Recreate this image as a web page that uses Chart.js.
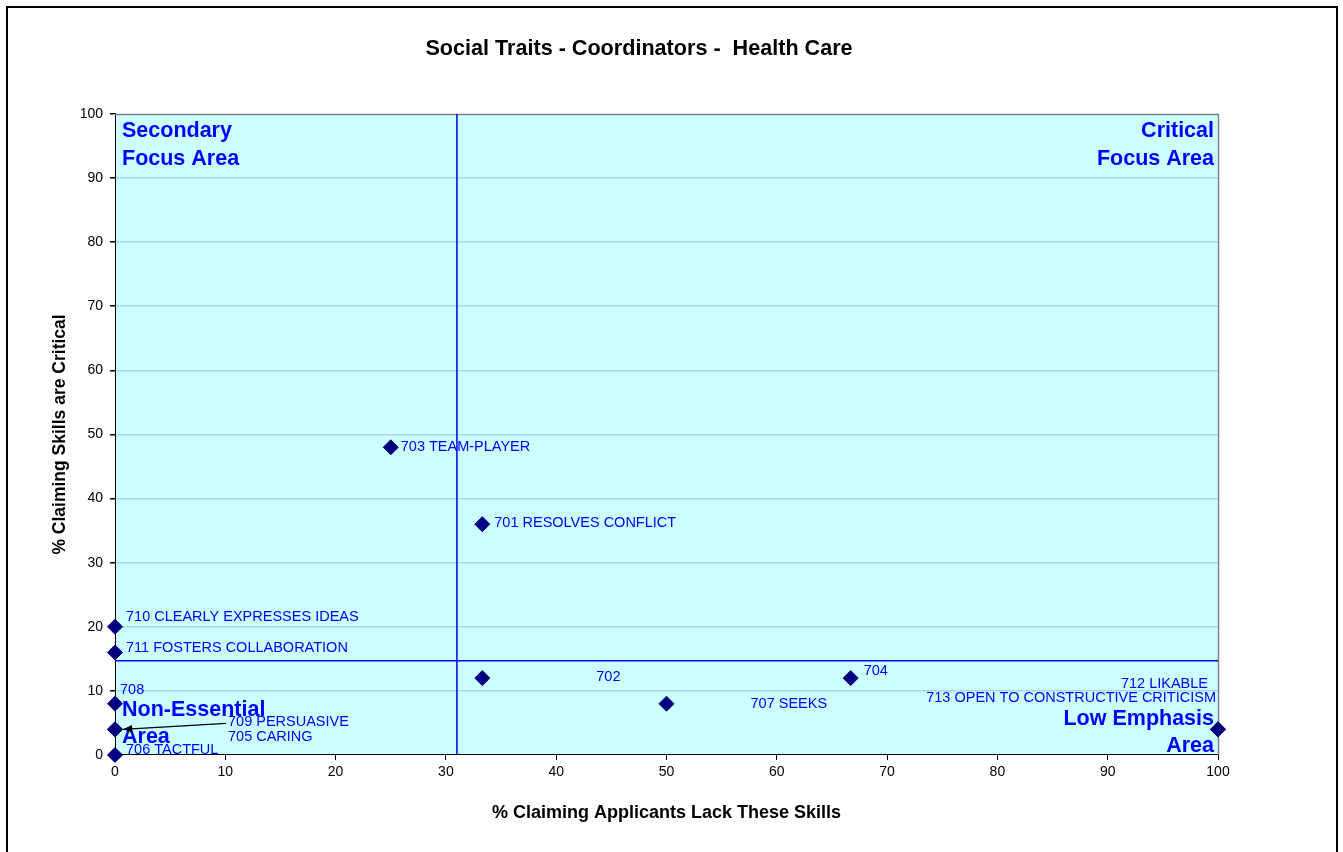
<!DOCTYPE html>
<html>
<head>
<meta charset="utf-8">
<script src="https://cdn.jsdelivr.net/npm/chart.js@4/dist/chart.umd.min.js"></script>
<style>
  html, body { margin: 0; padding: 0; background: #fff; }
  #wrap { position: relative; width: 1343px; height: 852px; overflow: hidden; }
  #frame { position: absolute; left: 6px; top: 6px; width: 1328px; height: 900px; border: 2px solid #000; pointer-events: none; }
</style>
</head>
<body>
<div id="wrap">
  <canvas id="myChart" width="1343" height="852"></canvas>
  <div id="frame"></div>
</div>
<script>
// skill codes / names
const codes = ['703 TEAM-PLAYER', '701 RESOLVES CONFLICT', '710 CLEARLY EXPRESSES IDEAS', '711 FOSTERS COLLABORATION',
  '702', '704', '707 SEEKS', '708', '709 PERSUASIVE', '705 CARING', '706 TACTFUL', '712 LIKABLE', '713 OPEN TO CONSTRUCTIVE CRITICISM']
// % claiming applicants lack these skills
const lackPct = [25, 33.3, 0, 0, 33.3, 66.7, 50, 0, 0, 0, 0, 100, 100]
// % claiming skills are critical
const criticalPct = [48, 36, 20, 16, 12, 12, 8, 8, 4, 4, 0, 4, 4]
const xTicks = [0, 10, 20, 30, 40, 50, 60, 70, 80, 90, 100]
const yTicks = [0, 10, 20, 30, 40, 50, 60, 70, 80, 90, 100]
// quadrant divider values
const xDivider = 31
const yDivider = 14.7

// label nudges in px (dx, dy, align)
const labelNudge = [
  [10, 0, 'left'], [12, -1, 'left'], [11, -10, 'left'], [11, -4, 'left'],
  [114, -1, 'left'], [13, -7, 'left'], [84, 0, 'left'], [5, -14, 'left'],
  [113, -7, 'left'], [113, 8, 'left'], [11, -5, 'left'], [-10, -45, 'right'], [-2, -31, 'right']
]

const points = lackPct.map((v, i) => ({x: v, y: criticalPct[i]}))
const FONT = 'Arial, "Liberation Sans", sans-serif'

const areaPlugin = {
  id: 'areas',
  beforeDraw(chart) {
    const {ctx, chartArea: a} = chart
    ctx.save()
    ctx.fillStyle = '#CCFFFF'
    ctx.fillRect(a.left, a.top, a.right - a.left, a.bottom - a.top)
    ctx.restore()
  },
  beforeDatasetsDraw(chart) {
    const {ctx, chartArea: a, scales} = chart
    ctx.save()
    ctx.strokeStyle = '#808080'
    ctx.lineWidth = 1.5
    ctx.beginPath()
    ctx.moveTo(a.left, a.top + 0.5); ctx.lineTo(a.right + 0.5, a.top + 0.5); ctx.lineTo(a.right + 0.5, a.bottom)
    ctx.stroke()
    // quadrant dividers
    const xd = scales.x.getPixelForValue(xDivider)
    const yd = scales.y.getPixelForValue(yDivider)
    ctx.strokeStyle = '#0000FF'
    ctx.lineWidth = 1.5
    ctx.beginPath()
    ctx.moveTo(xd, a.top); ctx.lineTo(xd, a.bottom)
    ctx.moveTo(a.left, yd); ctx.lineTo(a.right, yd)
    ctx.stroke()
    // quadrant titles
    ctx.fillStyle = '#0000FF'
    ctx.font = 'bold 21.5px ' + FONT
    ctx.textBaseline = 'middle'
    ctx.textAlign = 'left'
    ctx.fillText('Secondary', a.left + 7, a.top + 17)
    ctx.fillText('Focus Area', a.left + 7, a.top + 45)
    ctx.fillText('Non-Essential', a.left + 7, a.bottom - 45)
    ctx.fillText('Area', a.left + 7, a.bottom - 18)
    ctx.textAlign = 'right'
    ctx.fillText('Critical', a.right - 4, a.top + 17)
    ctx.fillText('Focus Area', a.right - 4, a.top + 45)
    ctx.fillText('Low Emphasis', a.right - 4, a.bottom - 36)
    ctx.fillText('Area', a.right - 4, a.bottom - 9)
    ctx.restore()
  },
  afterDatasetsDraw(chart) {
    const {ctx, scales} = chart
    ctx.save()
    ctx.font = '14.5px ' + FONT
    ctx.fillStyle = '#0000FF'
    ctx.textBaseline = 'middle'
    points.forEach((p, i) => {
      const px = scales.x.getPixelForValue(p.x)
      const py = scales.y.getPixelForValue(p.y)
      const [dx, dy, al] = labelNudge[i]
      ctx.textAlign = al
      ctx.fillText(codes[i], px + dx, py + dy)
    })
    // arrow from 709 label to its point
    const ax = scales.x.getPixelForValue(lackPct[8])
    const ay = scales.y.getPixelForValue(criticalPct[8])
    const sx = ax + 111, sy = ay - 6
    const ex = ax + 8, ey = ay
    ctx.strokeStyle = '#000'
    ctx.fillStyle = '#000'
    ctx.lineWidth = 1.3
    ctx.beginPath(); ctx.moveTo(sx, sy); ctx.lineTo(ex, ey); ctx.stroke()
    const ang = Math.atan2(ey - sy, ex - sx)
    ctx.beginPath()
    ctx.moveTo(ex, ey)
    ctx.lineTo(ex - 10 * Math.cos(ang - 0.4), ey - 10 * Math.sin(ang - 0.4))
    ctx.lineTo(ex - 10 * Math.cos(ang + 0.4), ey - 10 * Math.sin(ang + 0.4))
    ctx.closePath(); ctx.fill()
    ctx.restore()
  }
}

var ctx = document.getElementById('myChart').getContext('2d')
var myChart = new Chart(ctx, {
  type: 'scatter',
  data: {
    datasets: [{
      label: 'Social Traits',
      data: points,
      clip: false,
      pointStyle: 'rectRot',
      pointRadius: 7.5,
      pointHoverRadius: 7.5,
      backgroundColor: '#000080',
      borderColor: '#000080',
      borderWidth: 1
    }]
  },
  options: {
    responsive: false,
    animation: false,
    events: [],
    layout: { padding: { left: 60, right: 125, top: 0, bottom: 0 } },
    plugins: {
      legend: { display: false },
      tooltip: { enabled: false },
      title: {
        display: true,
        text: 'Social Traits - Coordinators -  Health Care',
        color: '#000',
        font: { family: FONT, size: 21.6, weight: 'bold' },
        padding: { top: 36, bottom: 52 }
      }
    },
    scales: {
      x: {
        type: 'linear', min: 0, max: 100,
        afterBuildTicks: s => { s.ticks = xTicks.map(v => ({value: v})) },
        afterFit: s => { s.height = 97 },
        ticks: { color: '#000', font: { family: FONT, size: 14 }, padding: 4, maxRotation: 0 },
        grid: { drawOnChartArea: false, drawTicks: true, tickLength: 5, tickColor: '#000' },
        border: { color: '#000', width: 1 },
        title: { display: true, text: '% Claiming Applicants Lack These Skills', color: '#000',
          font: { family: FONT, size: 18, weight: 'bold' }, padding: { top: 0, bottom: 28 } }
      },
      y: {
        type: 'linear', min: 0, max: 100,
        afterBuildTicks: s => { s.ticks = yTicks.map(v => ({value: v})) },
        afterFit: s => { s.width = 55 },
        ticks: { color: '#000', font: { family: FONT, size: 14 }, padding: 7 },
        grid: { color: ctx => (ctx.tick && (ctx.tick.value === 0 || ctx.tick.value === 100)) ? 'rgba(0,0,0,0)' : '#A6D8F5',
          tickColor: '#000', tickLength: 5, lineWidth: 1.5 },
        border: { color: '#000', width: 1 },
        title: { display: true, text: '% Claiming Skills are Critical', color: '#000',
          font: { family: FONT, size: 17.5, weight: 'bold' }, padding: { top: -10.5, bottom: 0 } }
      }
    }
  },
  plugins: [areaPlugin]
})
</script>
</body>
</html>
